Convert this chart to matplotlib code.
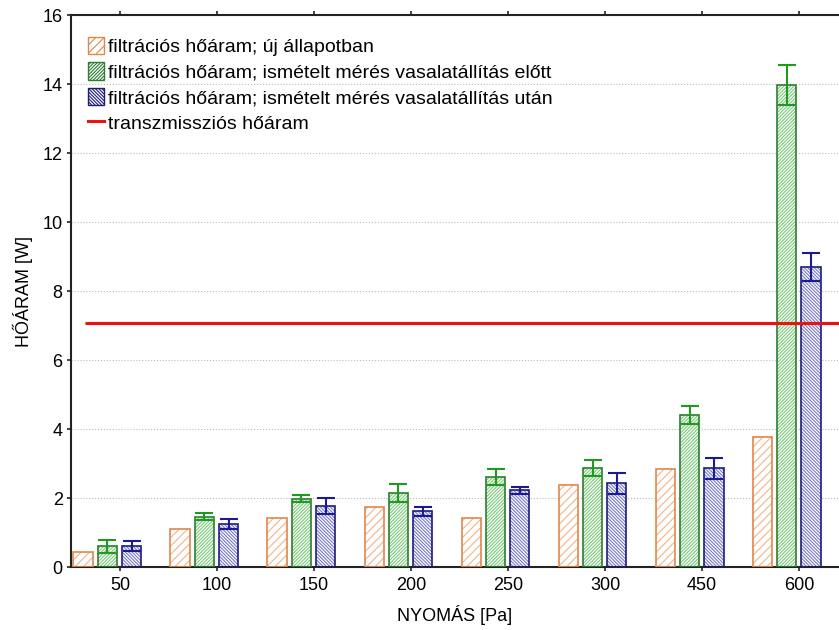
import matplotlib
matplotlib.use("Agg")
import matplotlib.pyplot as plt
from matplotlib.patches import Patch
from matplotlib.lines import Line2D
import numpy as np

categories = ['50', '100', '150', '200', '250', '300', '450', '600']
new_state = [0.44, 1.10, 1.41, 1.73, 1.41, 2.37, 2.84, 3.78]
before = [0.60, 1.46, 1.98, 2.14, 2.62, 2.87, 4.42, 13.98]
before_err = [0.18, 0.10, 0.10, 0.26, 0.23, 0.23, 0.26, 0.58]
after = [0.60, 1.24, 1.77, 1.61, 2.23, 2.43, 2.86, 8.70]
after_err = [0.14, 0.14, 0.22, 0.14, 0.10, 0.30, 0.30, 0.41]
transmission = 7.08

labels = ['filtrációs hőáram; új állapotban',
          'filtrációs hőáram; ismételt mérés vasalatállítás előtt',
          'filtrációs hőáram; ismételt mérés vasalatállítás után',
          'transzmissziós hőáram']

plt.rcParams['font.family'] = ['Liberation Sans', 'DejaVu Sans']
plt.rcParams['font.size'] = 13
plt.rcParams['hatch.linewidth'] = 0.8

fig = plt.figure(figsize=(8.39, 6.30), dpi=100)
ax = fig.add_axes([0.0846, 0.100, 0.9154, 0.876])

x = np.arange(len(categories))
w = 0.2
offs = [-0.38, -0.13, 0.12]

series = [
    (new_state, None, '////', '#f4b48a', '#e0874a', None),
    (before, before_err, '/' * 10, '#7cc87c', '#2e7d32', '#1e9a1e'),
    (after, after_err, '\\' * 10, '#7878c8', '#1c1c7c', '#1a1a99'),
]

handles = []
for (vals, err, hatch, hcol, ecol, errcol), off, lab in zip(series, offs, labels):
    ax.bar(x + off, vals, width=w, color='white', edgecolor=hcol, hatch=hatch,
           linewidth=0, zorder=2)
    ax.bar(x + off, vals, width=w, fill=False, edgecolor=ecol, linewidth=1.2,
           zorder=3)
    if err is not None:
        ax.errorbar(x + off, vals, yerr=err, fmt='none', ecolor=errcol,
                    elinewidth=1.5, capsize=6.5, capthick=1.5, zorder=4)
    handles.append(Patch(facecolor='white', edgecolor=ecol, hatch=hatch,
                         linewidth=1.0, label=lab))

ax.hlines(transmission, -0.36, 7.41, color='#ee1111', linewidth=2.2, zorder=5)
handles.append(Line2D([0], [0], color='#ee1111', linewidth=2.2, label=labels[3]))

ax.set_xlim(-0.505, 7.41)
ax.set_ylim(0, 16)
ax.set_yticks(np.arange(0, 17, 2))
ax.set_xticks(x)
ax.set_xticklabels(categories)
ax.yaxis.grid(True, linestyle=':', color='#bbbbbb', linewidth=0.8)
ax.set_axisbelow(True)

for s in ['left', 'bottom', 'top']:
    ax.spines[s].set_linewidth(1.5)
    ax.spines[s].set_color('#222222')
ax.spines['right'].set_visible(False)
ax.tick_params(axis='both', direction='out', length=3, width=1.2, labelsize=13,
               colors='#222222', labelcolor='black')
ax.tick_params(axis='x', top=True, pad=4)
ax.tick_params(axis='y', pad=3)

ax.set_xlabel('NYOMÁS [Pa]', fontsize=13, labelpad=8)
ax.set_ylabel('HŐÁRAM [W]', fontsize=13, labelpad=7)

ax.legend(handles=handles, loc='upper left', bbox_to_anchor=(0.012, 0.975),
          frameon=False, borderaxespad=0, handlelength=0.8, handleheight=1.0,
          handletextpad=0.25, labelspacing=0.32, fontsize=14)

fig.savefig('out.png', dpi=100)
